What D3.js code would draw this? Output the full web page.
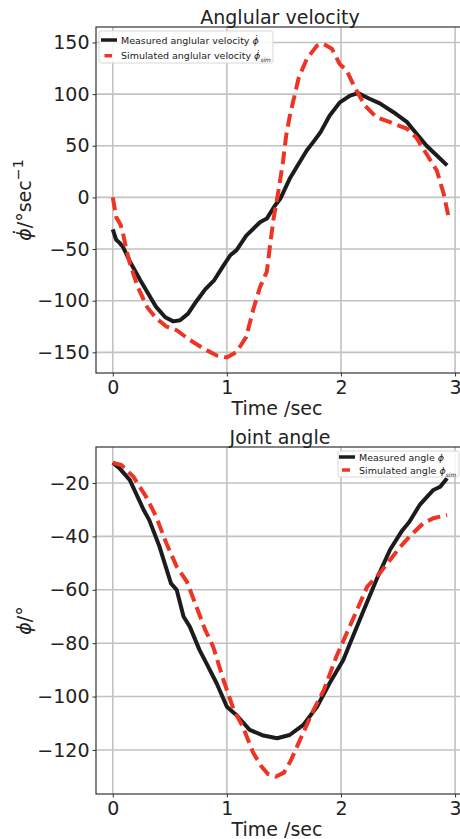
<!DOCTYPE html>
<html>
<head>
<meta charset="utf-8">
<script src="https://cdn.jsdelivr.net/npm/d3@7"></script>
<style>
  body { margin: 0; background: #fff; }
  text { font-family: "DejaVu Sans", sans-serif; fill: #222; }
</style>
</head>
<body>
<div id="chart"></div>
<script>
// ---- data ----
const xTicks = [0, 1, 2, 3];

// angular velocity panel
const velTicks = [-150, -100, -50, 0, 50, 100, 150];
const velTimeMeas = [0, 0.03, 0.06, 0.09, 0.15, 0.24, 0.31, 0.38, 0.46, 0.53, 0.59, 0.66, 0.73, 0.81, 0.89, 0.97, 1.03, 1.085, 1.17, 1.29, 1.35, 1.42, 1.47, 1.55, 1.62, 1.70, 1.76, 1.82, 1.90, 1.99, 2.08, 2.15, 2.25, 2.34, 2.46, 2.58, 2.63, 2.75, 2.84, 2.93];
const velMeas = [-31, -41, -44, -48, -62, -80, -93, -106, -116, -120, -119, -112.5, -101, -89, -80, -66, -56, -51, -37, -24, -20.5, -8, -1, 18, 31, 45.5, 54, 63, 79, 92, 98.6, 101, 95.5, 91, 82.5, 72.8, 66, 50, 40.6, 31];
const velTimeSim = [0, 0.03, 0.07, 0.09, 0.12, 0.15, 0.22, 0.30, 0.38, 0.47, 0.56, 0.675, 0.79, 0.91, 1.0, 1.085, 1.17, 1.23, 1.29, 1.35, 1.38, 1.41, 1.45, 1.49, 1.52, 1.55, 1.63, 1.70, 1.79, 1.84, 1.92, 1.99, 2.05, 2.12, 2.21, 2.31, 2.43, 2.58, 2.66, 2.75, 2.84, 2.90, 2.94];
const velSim = [0, -19, -27, -35, -51, -64, -87, -106, -117, -125, -128.6, -138, -146, -153, -155, -149.6, -135, -109, -87, -72, -45, -20, 5, 33, 60, 78, 116, 134, 147, 149, 144, 129, 123, 106.7, 89, 77.7, 72.8, 66.4, 58, 42, 26, 3.6, -17.4];

// joint angle panel
const angTicks = [-120, -100, -80, -60, -40, -20];
const angTimeMeas = [0, 0.06, 0.15, 0.27, 0.32, 0.41, 0.51, 0.56, 0.62, 0.675, 0.76, 0.82, 0.91, 1.0, 1.085, 1.2, 1.32, 1.44, 1.55, 1.67, 1.79, 1.90, 2.02, 2.08, 2.2, 2.31, 2.43, 2.53, 2.6, 2.69, 2.81, 2.87, 2.93];
const angMeas = [-12.4, -14.5, -18.9, -30, -33.9, -43.9, -57.6, -60, -70, -73.8, -82.5, -87.5, -95, -103.8, -107, -112.5, -114.6, -115.6, -114.4, -110.6, -103.8, -95, -86.3, -80, -67.6, -56.3, -45, -38.2, -34.5, -28.2, -22.6, -21.4, -18.2];
const angTimeSim = [0, 0.076, 0.18, 0.30, 0.38, 0.47, 0.56, 0.65, 0.70, 0.81, 0.88, 0.97, 1.06, 1.14, 1.23, 1.30, 1.36, 1.43, 1.50, 1.56, 1.64, 1.76, 1.85, 1.96, 2.05, 2.14, 2.23, 2.34, 2.43, 2.52, 2.6, 2.72, 2.81, 2.93];
const angSim = [-12.4, -13.3, -17.6, -25.7, -32.6, -42.6, -51.3, -57, -62.6, -75, -81.3, -93.8, -105, -111.3, -121, -126, -129, -130, -128.5, -124, -116.3, -105, -97.5, -85, -76.3, -67.6, -58.8, -53.8, -48.8, -43.9, -40.1, -35.1, -33.2, -32];

const W = 460, H = 839;
const BLACK = "#1c1c1c", RED = "#ee3424";

const svg = d3.select("#chart").append("svg")
    .attr("width", W)
    .attr("height", H);

function zip(ts, vs) {
    return ts.map((t, i) => ({t: t, v: vs[i]}));
}

function draw_panel(cfg) {
    const left = 96, right = 465;
    const x = d3.scaleLinear().domain([-0.147, 3.087]).range([left, right]);
    const y = d3.scaleLinear().domain(cfg.yDomain).range([cfg.bottom, cfg.top]);
    const g = svg.append("g");

    // grid
    g.selectAll(null).data(xTicks).join("line")
        .attr("x1", d => x(d)).attr("x2", d => x(d))
        .attr("y1", cfg.top).attr("y2", cfg.bottom)
        .attr("stroke", "#c2c2c2").attr("stroke-width", 1.6);
    g.selectAll(null).data(cfg.yTicks).join("line")
        .attr("x1", left).attr("x2", right)
        .attr("y1", d => y(d)).attr("y2", d => y(d))
        .attr("stroke", "#c2c2c2").attr("stroke-width", 1.6);

    // lines
    const line = d3.line().x(d => x(d.t)).y(d => y(d.v));
    g.append("path").datum(zip(cfg.tMeas, cfg.meas))
        .attr("d", line).attr("fill", "none")
        .attr("stroke", BLACK).attr("stroke-width", 4)
        .attr("stroke-linejoin", "round");
    g.append("path").datum(zip(cfg.tSim, cfg.sim))
        .attr("d", line).attr("fill", "none")
        .attr("stroke", RED).attr("stroke-width", 4)
        .attr("stroke-dasharray", "13,6");

    // spines
    g.append("rect")
        .attr("x", left).attr("y", cfg.top)
        .attr("width", right - left).attr("height", cfg.bottom - cfg.top)
        .attr("fill", "none").attr("stroke", "#333").attr("stroke-width", 1.2);

    // axes
    const xAxis = g.append("g")
        .attr("transform", `translate(0,${cfg.bottom})`)
        .call(d3.axisBottom(x).tickValues(xTicks).tickSize(3.5).tickPadding(4).tickFormat(d3.format("d")));
    const yAxis = g.append("g")
        .attr("transform", `translate(${left},0)`)
        .call(d3.axisLeft(y).tickValues(cfg.yTicks).tickSize(3.5).tickPadding(3).tickFormat(d => d < 0 ? "\u2212" + Math.abs(d) : d));
    [xAxis, yAxis].forEach(a => {
        a.select(".domain").remove();
        a.selectAll(".tick line").attr("stroke", "#333").attr("stroke-width", 1);
        a.selectAll("text").attr("font-size", 19).attr("fill", "#222")
            .attr("font-family", "DejaVu Sans");
    });

    // title and x label
    g.append("text").attr("x", 280).attr("y", cfg.top - 3)
        .attr("text-anchor", "middle").attr("font-size", 19).text(cfg.title);
    g.append("text").attr("x", 277).attr("y", cfg.bottom + 42)
        .attr("text-anchor", "middle").attr("font-size", 19).text("Time /sec");

    // y label
    const yl = g.append("text")
        .attr("transform", `translate(31,${(cfg.top + cfg.bottom) / 2}) rotate(-90)`)
        .attr("text-anchor", "middle").attr("font-size", 19);
    cfg.yLabel(yl);

    // legend
    const lg = g.append("g");
    lg.append("rect")
        .attr("x", cfg.legend.x).attr("y", cfg.legend.y)
        .attr("width", cfg.legend.w).attr("height", cfg.legend.h)
        .attr("rx", 2).attr("fill", "#fff").attr("fill-opacity", 0.85)
        .attr("stroke", "#d8d8d8").attr("stroke-width", 1);
    cfg.legend.rows.forEach((r, i) => {
        const cy = cfg.legend.rowY[i];
        lg.append("line")
            .attr("x1", r.x1).attr("x2", r.x2).attr("y1", cy).attr("y2", cy)
            .attr("stroke", r.color).attr("stroke-width", 3.5);
        const t = lg.append("text").attr("x", cfg.legend.textX).attr("y", cy + 3.5)
            .attr("font-size", 9.5);
        r.label(t);
    });
}

function phi(t, dotted, sub) {
    t.append("tspan").attr("font-style", "italic").text(dotted ? "\u03d5\u0307" : "\u03d5");
    if (sub) {
        t.append("tspan").attr("font-style", "italic").attr("font-size", "62%")
            .attr("baseline-shift", "sub").text(sub);
    }
}

draw_panel({
    title: "Anglular velocity",
    top: 27, bottom: 373,
    yDomain: [-170, 165],
    yTicks: velTicks,
    tMeas: velTimeMeas, meas: velMeas,
    tSim: velTimeSim, sim: velSim,
    yLabel: t => {
        phi(t, true);
        t.append("tspan").text("/\u00b0sec");
        t.append("tspan").attr("font-size", "75%").attr("baseline-shift", "super").text("\u22121");
    },
    legend: {
        x: 99, y: 31, w: 174, h: 32, textX: 121,
        rowY: [40, 55.7],
        rows: [
            {x1: 101, x2: 117, color: BLACK,
             label: t => { t.append("tspan").text("Measured anglular velocity "); phi(t, true); }},
            {x1: 104.5, x2: 112, color: RED,
             label: t => { t.append("tspan").text("Simulated anglular velocity "); phi(t, true, "sim"); }}
        ]
    }
});

draw_panel({
    title: "Joint angle",
    top: 447, bottom: 794,
    yDomain: [-136.5, -6.5],
    yTicks: angTicks,
    tMeas: angTimeMeas, meas: angMeas,
    tSim: angTimeSim, sim: angSim,
    yLabel: t => {
        phi(t, false);
        t.append("tspan").text("/\u00b0");
    },
    legend: {
        x: 338, y: 451, w: 121, h: 26, textX: 359,
        rowY: [457, 470],
        rows: [
            {x1: 339, x2: 355, color: BLACK,
             label: t => { t.append("tspan").text("Measured angle  "); phi(t, false); }},
            {x1: 342, x2: 350, color: RED,
             label: t => { t.append("tspan").text("Simulated angle "); phi(t, false, "sim"); }}
        ]
    }
});
</script>
</body>
</html>
